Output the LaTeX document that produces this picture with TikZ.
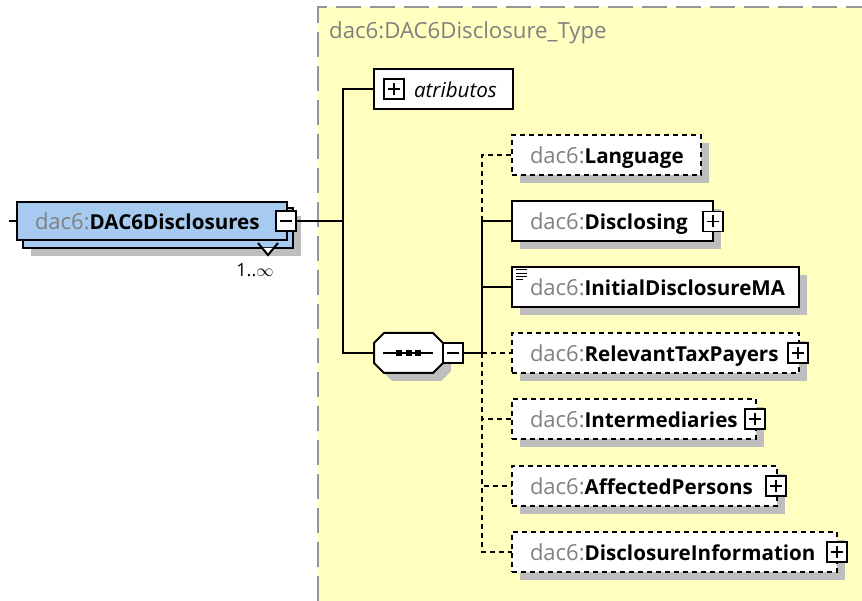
\documentclass[tikz,border=0pt]{standalone}
\usepackage{fontspec}
\setmainfont{Open Sans}
\usetikzlibrary{shadows}
\definecolor{panelyellow}{RGB}{255,255,192}
\definecolor{panelgray}{RGB}{150,150,150}
\definecolor{shadowgray}{RGB}{190,190,190}
\definecolor{prefixgray}{RGB}{128,128,128}
\definecolor{mainblue}{RGB}{166,202,240}
\newcommand{\pfx}{\textcolor{prefixgray}{\fontsize{22}{24}\selectfont dac6:}}
\newcommand{\elfont}{\fontsize{20.6}{24}\selectfont}
\tikzset{
  x=1pt,y=-1pt,
  wire/.style={line width=2pt,black},
  dwire/.style={line width=2pt,black,dash pattern=on 5pt off 4pt},
  elplain/.style={anchor=north west,fill=white,draw=black,line width=2pt,inner sep=0pt,outer sep=0pt,
    minimum height=40pt,align=left,font=\elfont,text height=17pt,text depth=0pt},
  elbase/.style={elplain,general shadow={shadow xshift=8pt,shadow yshift=-8pt,fill=shadowgray,draw=none}},
  elsolid/.style={elbase},
  eldash/.style={elbase,dash pattern=on 5pt off 4pt},
  pmbase/.style={anchor=north west,fill=white,draw=black,line width=1.6pt,inner sep=0pt,outer sep=0pt,minimum size=20pt},
  plusbox/.style={pmbase,path picture={
    \draw[line width=1.2pt] ([xshift=-6pt]path picture bounding box.center) -- ([xshift=6pt]path picture bounding box.center);
    \draw[line width=1.2pt] ([yshift=-6pt]path picture bounding box.center) -- ([yshift=6pt]path picture bounding box.center);}},
  minusbox/.style={pmbase,path picture={
    \draw[line width=1.2pt] ([xshift=-6pt]path picture bounding box.center) -- ([xshift=6pt]path picture bounding box.center);}},
  dotmark/.style={fill=black,draw=none,inner sep=0pt,outer sep=0pt,minimum size=6pt},
}
\begin{document}
\begin{tikzpicture}
\useasboundingbox (0,0) rectangle (862,601);
\fill[panelyellow] (318,7) rectangle (862,601);
\draw[panelgray,line width=2pt,dash pattern=on 25pt off 9pt] (318,601) -- (318,7) -- (862,7);
\node[font=\fontsize{22.2}{24}\selectfont,text=prefixgray,anchor=base west,inner sep=0pt] (paneltitle) at (329,39) {dac6:DAC6Disclosure\_Type};

% global element (back copy, front copy)
\node[elbase,fill=mainblue,minimum width=270pt] (mainback) at (23,208) {};
\fill[white] (262,248) -- (268,255) -- (274,248) -- cycle;
\draw[wire] (258,243) -- (268,255) -- (278,243);
\node[elplain,fill=mainblue,minimum width=270pt,minimum height=38pt,text width=270pt] (mainel) at (17,202) {\hspace*{18pt}\pfx\textbf{DAC6Disclosures}};
\node[minusbox] (mainminus) at (276,211) {};
\node[font=\fontsize{18}{20}\selectfont,anchor=center,inner sep=0pt] (mainocc) at (255,270) {1..$\infty$};

% routing points
\coordinate (mainstub) at (9,221);
\coordinate (trunk) at (343,221);
\coordinate (hub) at (482,353);
\coordinate (hubup) at (482,221);

% attributes
\node[elplain,minimum width=139pt,text width=139pt] (atr) at (374,69) {\hspace*{40pt}\textit{atributos}};
\node[plusbox] (atrplus) at (384,79) {};

% sequence compositor: octagon outline with its shadow, named node on top
\fill[shadowgray] (392,341) -- (441,341) -- (451,351) -- (451,371) -- (441,381) -- (392,381) -- (382,371) -- (382,351) -- cycle;
\draw[line width=2pt,fill=white] (384,333) -- (433,333) -- (443,343) -- (443,363) -- (433,373) -- (384,373) -- (374,363) -- (374,343) -- cycle;
\node[anchor=north west,draw=none,fill=none,inner sep=0pt,outer sep=0pt,minimum width=69pt,minimum height=40pt] (seq) at (374,333) {};
\node[minusbox] (seqminus) at (443,343) {};
\coordinate (seqa) at (383,353);
\coordinate (seqb) at (433,353);
\draw[line width=1.4pt] (seqa) -- (seqb);
\node[dotmark] (dota) at (399,353) {};
\node[dotmark] (dotb) at (408.5,353) {};
\node[dotmark] (dotc) at (418,353) {};

% child elements
\node[eldash,minimum width=189pt,text width=189pt] (lang) at (512,135) {\hspace*{18pt}\pfx\textbf{Language}};
\node[elsolid,minimum width=201pt,text width=201pt] (discl) at (512,201.5) {\hspace*{18pt}\pfx\textbf{Disclosing}};
\node[plusbox] (disclplus) at (703,211.5) {};
\node[elsolid,minimum width=287pt,text width=287pt] (init) at (512,267) {\hspace*{18pt}\pfx\textbf{InitialDisclosureMA}};
\node[eldash,minimum width=287pt,text width=287pt] (relev) at (512,333) {\hspace*{18pt}\pfx\textbf{RelevantTaxPayers}};
\node[plusbox] (relevplus) at (788,343) {};
\node[eldash,minimum width=244pt,text width=244pt] (inter) at (512,399) {\hspace*{18pt}\pfx\textbf{Intermediaries}};
\node[plusbox] (interplus) at (745,409) {};
\node[eldash,minimum width=265pt,text width=265pt] (aff) at (512,466) {\hspace*{18pt}\pfx\textbf{AffectedPersons}};
\node[plusbox] (affplus) at (766,476) {};
\node[eldash,minimum width=325pt,text width=325pt] (info) at (512,532) {\hspace*{18pt}\pfx\textbf{DisclosureInformation}};
\node[plusbox] (infoplus) at (827,542) {};

% annotation mark on InitialDisclosureMA
\coordinate (notea) at (516,270);
\coordinate (noteb) at (516,273.5);
\coordinate (notec) at (516,277);
\coordinate (noted) at (516,280);
\draw[line width=1pt] (notea) -- ++(11,0) (noteb) -- ++(11,0) (notec) -- ++(11,0) (noted) -- ++(7,0);

% connectors
\draw[wire] (mainstub) -- (mainel.west);
\draw[wire] (mainminus.east) -- (trunk);
\draw[wire] (trunk) |- (atr.west);
\draw[wire] (trunk) |- (seq.west);
\draw[wire] (seqminus.east) -- (hub);
\draw[wire] (hub) -- (hubup);
\draw[wire] (hubup) |- (discl.west);
\draw[wire] (hub |- init.west) -- (init.west);
\draw[dwire] (hubup) |- (lang.west);
\draw[dwire] (hub) -- (relev.west);
\draw[dwire] (hub) |- (inter.west);
\draw[dwire] (hub) |- (aff.west);
\draw[dwire] (hub) |- (info.west);
\end{tikzpicture}
\end{document}
